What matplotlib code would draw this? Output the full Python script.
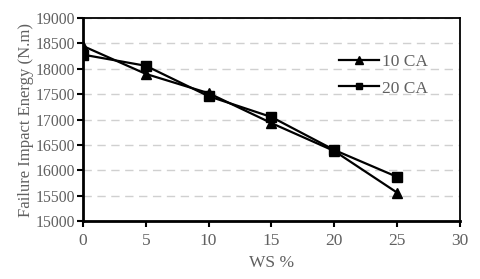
import matplotlib
matplotlib.use("Agg")
import matplotlib.pyplot as plt

ws = [0, 5, 10, 15, 20, 25]
ca10 = [18450, 17900, 17520, 16930, 16380, 15560]
ca20 = [18280, 18060, 17460, 17050, 16400, 15870]
series_labels = ["10 CA", "20 CA"]
xticks = [0, 5, 10, 15, 20, 25, 30]
yticks = list(range(15000, 19001, 500))

plt.rcParams['font.family'] = ['Liberation Serif', 'DejaVu Serif']
gray = '#606060'

fig = plt.figure(figsize=(4.8, 2.79), dpi=100)
ax = fig.add_axes([0.173, 0.208, 0.785, 0.727])

ax.plot(ws, ca10, color='black', marker='^', markersize=7.5, linewidth=1.6, label=series_labels[0])
ax.plot(ws, ca20, color='black', marker='s', markersize=6.5, linewidth=1.6, label=series_labels[1])

ax.set_xlim(0, 30)
ax.set_ylim(15000, 19000)
ax.set_xticks(xticks)
ax.set_yticks(yticks)
ax.yaxis.grid(True, linestyle=(0, (6, 4)), color='#d0d0d0', linewidth=1.0)
ax.set_axisbelow(True)

for s in ax.spines.values():
    s.set_color('black')
    s.set_linewidth(1.3)
ax.spines['left'].set_linewidth(2.0)
ax.spines['bottom'].set_linewidth(2.0)

ax.tick_params(axis='both', colors='black', labelcolor=gray, width=1.5, length=4, direction='out')
ax.tick_params(axis='y', labelsize=11.3, pad=2)
ax.tick_params(axis='x', labelsize=12.5, pad=5)
ax.set_xlabel('WS %', color=gray, fontsize=12.5, labelpad=4)
ax.set_ylabel('Failure Impact Energy (N.m)', color=gray, fontsize=12, labelpad=1)

leg = ax.legend(loc='upper left', bbox_to_anchor=(0.662, 0.86), frameon=False, fontsize=12.5,
                handlelength=2.3, handletextpad=0.15, labelspacing=0.62, labelcolor=gray,
                markerscale=0.75, borderaxespad=0)

fig.savefig('out.png', dpi=100)
